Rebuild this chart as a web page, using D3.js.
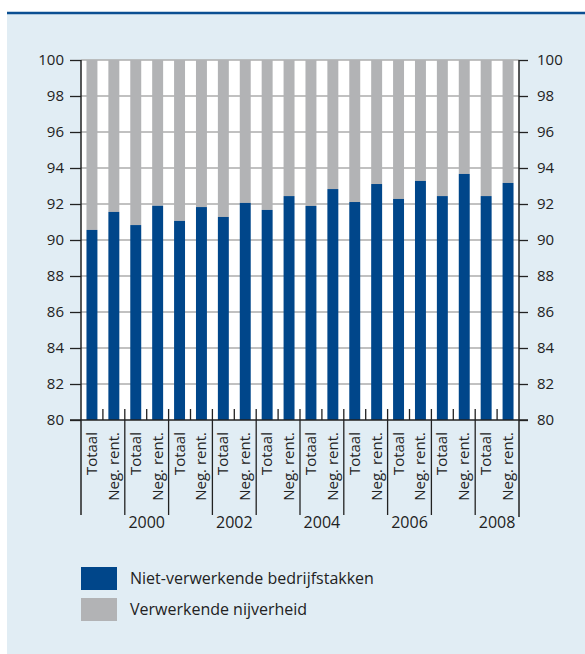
<!DOCTYPE html>
<html>
<head>
<meta charset="utf-8">
<script src="https://cdn.jsdelivr.net/npm/d3@7"></script>
<style>
  body { margin: 0; background: #ffffff; }
  svg { display: block; font-family: "Open Sans", sans-serif; }
</style>
</head>
<body>
<div id="chart"></div>
<script>
// jaren en categorieen
var years = [1999, 2000, 2001, 2002, 2003, 2004, 2005, 2006, 2007, 2008];
var yearLabels = ["", "2000", "", "2002", "", "2004", "", "2006", "", "2008"];
var categories = ["Totaal", "Neg. rent."];

// aandeel niet-verwerkende bedrijfstakken (%)
var totaal = [90.56, 90.83, 91.06, 91.28, 91.67, 91.89, 92.11, 92.28, 92.44, 92.44];
var negRent = [91.56, 91.9, 91.83, 92.06, 92.44, 92.83, 93.11, 93.28, 93.67, 93.17];

var yTicks = [80, 82, 84, 86, 88, 90, 92, 94, 96, 98, 100];
var legendLabels = ["Niet-verwerkende bedrijfstakken", "Verwerkende nijverheid"];

var width = 585;
var height = 654;
var blue = "#00468a";
var grey = "#b2b3b5";

var bars = [];
years.forEach(function(y, i){
    bars.push({ key: y + "-0", cat: categories[0], value: totaal[i] });
    bars.push({ key: y + "-1", cat: categories[1], value: negRent[i] });
});

var svg = d3.select("#chart")
    .append("svg")
    .attr("width", width)
    .attr("height", height);

// paneel
svg.append("rect")
    .attr("x", 7).attr("y", 13)
    .attr("width", width - 7).attr("height", height - 13)
    .attr("fill", "#e1edf4");
svg.append("line")
    .attr("x1", 7).attr("x2", width)
    .attr("y1", 13).attr("y2", 13)
    .attr("stroke", "#0b4f92")
    .attr("stroke-width", 2.5);

var plotLeft = 81, plotRight = 519, plotTop = 60, plotBottom = 420;

var x = d3.scaleBand()
    .domain(bars.map(function(d){ return d.key; }))
    .range([plotLeft, plotRight])
    .paddingInner(0.5)
    .paddingOuter(0.25);

var y = d3.scaleLinear().domain([80, 100]).range([plotBottom, plotTop]);

var step = x.step();

// plot achtergrond
svg.append("rect")
    .attr("x", plotLeft).attr("y", plotTop)
    .attr("width", plotRight - plotLeft).attr("height", plotBottom - plotTop)
    .attr("fill", "#ffffff");

// rasterlijnen
svg.selectAll(".grid")
    .data(yTicks.filter(function(t){ return t > 80; }))
    .enter().append("line")
    .attr("class", "grid")
    .attr("x1", plotLeft).attr("x2", plotRight)
    .attr("y1", function(d){ return y(d); })
    .attr("y2", function(d){ return y(d); })
    .attr("stroke", "#adadad")
    .attr("stroke-width", 1.3);

// grijs deel (tot 100)
svg.selectAll(".bar-grey")
    .data(bars)
    .enter().append("rect")
    .attr("class", "bar-grey")
    .attr("x", function(d){ return x(d.key); })
    .attr("width", x.bandwidth())
    .attr("y", y(100))
    .attr("height", function(d){ return y(d.value) - y(100); })
    .attr("fill", grey);

// blauw deel
svg.selectAll(".bar-blue")
    .data(bars)
    .enter().append("rect")
    .attr("class", "bar-blue")
    .attr("x", function(d){ return x(d.key); })
    .attr("width", x.bandwidth())
    .attr("y", function(d){ return y(d.value); })
    .attr("height", function(d){ return y(80) - y(d.value); })
    .attr("fill", blue);

// assen
var yLeft = d3.axisLeft(y).tickValues(yTicks).tickSize(11).tickPadding(6);
var yRight = d3.axisRight(y).tickValues(yTicks).tickSize(9).tickPadding(9);

var gl = svg.append("g").attr("transform", "translate(" + plotLeft + ",0)").call(yLeft);
var gr = svg.append("g").attr("transform", "translate(" + plotRight + ",0)").call(yRight);
[gl, gr].forEach(function(g){
    g.select(".domain").remove();
    g.selectAll("line").attr("stroke", "#222").attr("stroke-width", 1.3);
    g.selectAll("text")
        .attr("font-family", "Open Sans, sans-serif")
        .attr("font-size", 15)
        .attr("fill", "#222");
});

// x-as lijn
svg.append("line")
    .attr("x1", plotLeft - 11).attr("x2", plotRight + 9)
    .attr("y1", plotBottom).attr("y2", plotBottom)
    .attr("stroke", "#222").attr("stroke-width", 1.5);

// verticale assen
svg.append("line")
    .attr("x1", plotLeft).attr("x2", plotLeft)
    .attr("y1", plotTop).attr("y2", 515)
    .attr("stroke", "#222").attr("stroke-width", 1.5);
svg.append("line")
    .attr("x1", plotRight).attr("x2", plotRight)
    .attr("y1", plotTop).attr("y2", 517)
    .attr("stroke", "#222").attr("stroke-width", 1.5);

// scheidingslijnen tussen jaren
years.forEach(function(yr, i){
    var xStart = x(yr + "-0") - x.paddingOuter() * step;
    var xMid = x(yr + "-1") - x.paddingInner() * step / 2;
    svg.append("line")
        .attr("x1", xMid).attr("x2", xMid)
        .attr("y1", plotBottom - 11).attr("y2", plotBottom)
        .attr("stroke", "#222").attr("stroke-width", 1.3);
    if (i > 0) {
        svg.append("line")
            .attr("x1", xStart).attr("x2", xStart)
            .attr("y1", plotBottom - 11).attr("y2", 515)
            .attr("stroke", "#222").attr("stroke-width", 1.3);
    }
});

// categorie labels
svg.selectAll(".cat")
    .data(bars)
    .enter().append("text")
    .attr("class", "cat")
    .attr("transform", function(d){
        return "translate(" + (x(d.key) + x.bandwidth() / 2 + 5) + "," + (plotBottom + 12) + ") rotate(-90)";
    })
    .attr("text-anchor", "end")
    .attr("font-size", 15)
    .attr("fill", "#222")
    .text(function(d){ return d.cat; });

// jaar labels
svg.selectAll(".year")
    .data(years)
    .enter().append("text")
    .attr("class", "year")
    .attr("x", function(d){ return (x(d + "-0") + x(d + "-1") + x.bandwidth()) / 2; })
    .attr("y", 528)
    .attr("text-anchor", "middle")
    .attr("font-size", 16)
    .attr("fill", "#222")
    .text(function(d, i){ return yearLabels[i]; });

// legenda
var legend = svg.selectAll(".legend")
    .data(legendLabels)
    .enter().append("g")
    .attr("class", "legend")
    .attr("transform", function(d, i){ return "translate(81," + (567 + i * 31) + ")"; });
legend.append("rect")
    .attr("width", 36).attr("height", 23)
    .attr("fill", function(d, i){ return i === 0 ? blue : grey; });
legend.append("text")
    .attr("x", 49).attr("y", 17)
    .attr("font-size", 16)
    .attr("fill", "#222")
    .text(function(d){ return d; });
</script>
</body>
</html>
